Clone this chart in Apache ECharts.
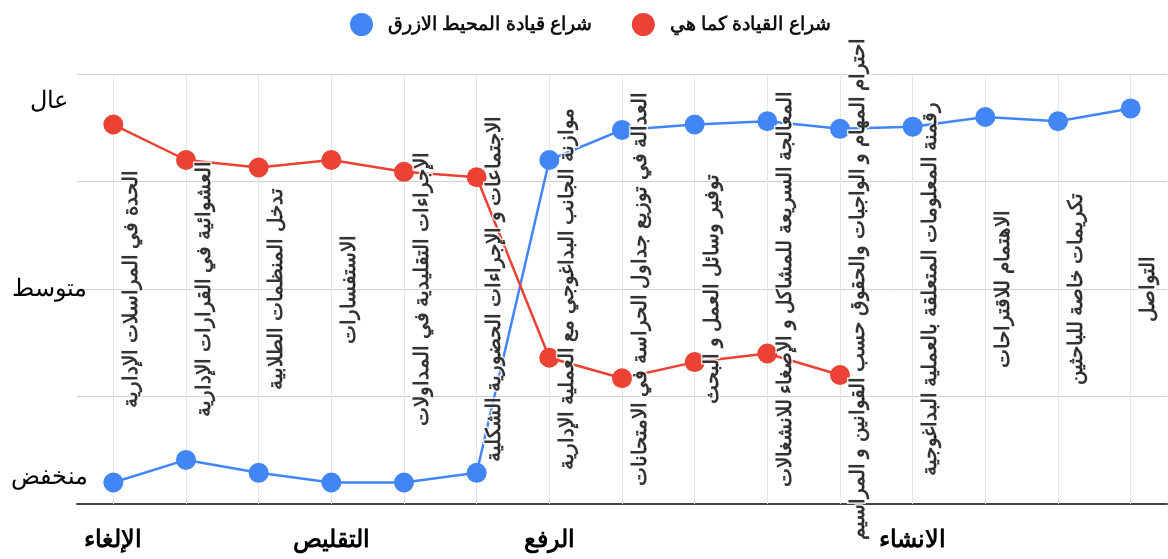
<!DOCTYPE html>
<html>
<head>
<meta charset="utf-8">
<script src="https://cdn.jsdelivr.net/npm/echarts@6/dist/echarts.min.js"></script>
<style>
    html, body { margin: 0; background: #fff; }
    #chart { width: 1168px; height: 559px; }
</style>
</head>
<body>
<div id="chart"></div>
<script>
"use strict";

var categories = [
    'الحدة في المراسلات الإدارية',
    'العشوائية في القرارات الإدارية',
    'تدخل المنظمات الطلابية',
    'الاستفسارات',
    'الإجراءات التقليدية في المداولات',
    'الاجتماعات و الإجراءات الحضورية الشكلية',
    'موازنة الجانب البداغوجي مع العملية الإدارية',
    'العدالة في توزيع جداول الحراسة في الامتحانات',
    'توفير وسائل العمل و البحث',
    'المعالجة السريعة للمشاكل و الإصغاء للانشغالات',
    'احترام المهام و الواجبات والحقوق حسب القوانين و المراسيم',
    'رقمنة المعلومات المتعلقة بالعملية البداغوجية',
    'الاهتمام للاقتراحات',
    'تكريمات خاصة للباحثين',
    'التواصل'
];
// phase names shown under the axis
var phases = ['الإلغاء', '', '', 'التقليص', '', '', 'الرفع', '', '', '', '', 'الانشاء', '', '', ''];
// level names on the left (value -> text)
var levelTicks = [0.25, 2, 3.75];
var levelNames = ['منخفض', 'متوسط', 'عال'];

var blueName = 'شراع قيادة المحيط الازرق';
var redName = 'شراع القيادة كما هي';
var blueValues = [0.2, 0.41, 0.29, 0.2, 0.2, 0.29, 3.2, 3.48, 3.53, 3.56, 3.49, 3.51, 3.6, 3.56, 3.68];
var redValues = [3.53, 3.2, 3.13, 3.2, 3.09, 3.04, 1.36, 1.17, 1.32, 1.4, 1.2, null, null, null, null];

// the rotated category texts sit around the middle level
var labelLevel = 2;

var chart = echarts.init(document.getElementById('chart'));

var option = {
    animation: false,
    legend: {
        data: [blueName, redName],
        top: 8,
        left: 345,
        icon: 'circle',
        itemWidth: 23,
        itemHeight: 23,
        itemGap: 40,
        textStyle: { fontSize: 19, fontWeight: 'bold', color: '#111', padding: [0, 0, 0, 10] }
    },
    grid: { left: 77, right: 1, top: 74, bottom: 55 },
    xAxis: {
        type: 'category',
        data: categories,
        boundaryGap: true,
        axisLine: { lineStyle: { color: '#444', width: 2 } },
        axisTick: { show: false },
        splitLine: { show: false },
        axisLabel: {
            interval: 0,
            margin: 24,
            fontSize: 24,
            fontWeight: 'bold',
            color: '#000',
            formatter: function (v, i) { return phases[i]; }
        }
    },
    yAxis: [
        {
            type: 'value',
            min: 0,
            max: 4,
            interval: 1,
            axisLine: { show: false },
            axisTick: { show: false },
            axisLabel: { show: false },
            splitLine: { lineStyle: { color: '#cfcfcf', width: 1 } }
        },
        {
            type: 'value',
            min: 0,
            max: 4,
            interval: 0.25,
            position: 'left',
            axisLine: { show: false },
            axisTick: { show: false },
            splitLine: { show: false },
            axisLabel: {
                margin: 28,
                align: 'center',
                fontSize: 24,
                color: '#000',
                formatter: function (v) {
                    var k = levelTicks.indexOf(v);
                    return k >= 0 ? levelNames[k] : '';
                }
            }
        }
    ],
    series: [
        {
            name: blueName,
            type: 'line',
            data: blueValues,
            symbol: 'circle',
            symbolSize: 20,
            itemStyle: { color: '#4285F4' },
            lineStyle: { color: '#4285F4', width: 2.5 },
            z: 3,
            markLine: {
                silent: true,
                symbol: 'none',
                label: { show: false },
                lineStyle: { color: '#e6e6e6', width: 1, type: 'solid' },
                data: categories.map(function (c) { return { xAxis: c }; }),
                z: 1
            }
        },
        {
            name: redName,
            type: 'line',
            data: redValues,
            symbol: 'circle',
            symbolSize: 20,
            itemStyle: { color: '#EA4335' },
            lineStyle: { color: '#EA4335', width: 2.5 },
            z: 3
        },
        {
            name: 'labels',
            type: 'scatter',
            silent: true,
            symbolSize: 0,
            z: 5,
            data: categories.map(function (c) { return [c, labelLevel]; }),
            label: {
                show: true,
                position: 'inside',
                rotate: 90,
                offset: [0, 18],
                fontSize: 20,
                fontWeight: 'bold',
                color: '#000',
                textBorderColor: '#fff',
                textBorderWidth: 3,
                formatter: function (p) { return p.data[0]; }
            }
        }
    ]
};

chart.setOption(option);
window.onresize = function () { chart.resize(); };
</script>
</body>
</html>
